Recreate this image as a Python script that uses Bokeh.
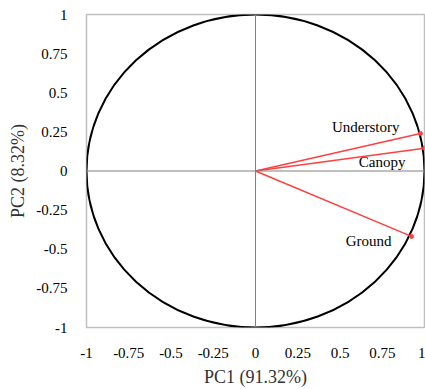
from bokeh.plotting import figure
from bokeh.models import FixedTicker, Span, ColumnDataSource, Range1d
from bokeh.core.properties import value
from bokeh.embed import file_html
from bokeh.resources import INLINE

names = ["Understory", "Canopy", "Ground"]
pc1 = [0.976, 1.0, 0.923]
pc2 = [0.24, 0.146, -0.418]
ticks = [-1, -0.75, -0.5, -0.25, 0, 0.25, 0.5, 0.75, 1]
tick_labels = ["-1", "-0.75", "-0.5", "-0.25", "0", "0.25", "0.5", "0.75", "1"]

FONT = "Liberation Serif"

p = figure(width=425, height=389, output_backend="svg", toolbar_location=None,
           x_range=Range1d(-1, 1), y_range=Range1d(-1, 1),
           min_border_left=86, min_border_right=1, min_border_top=14, min_border_bottom=59)
p.grid.visible = False
p.outline_line_color = "#bfbfbf"
p.outline_line_width = 1.5
p.background_fill_color = "white"
p.border_fill_color = "white"

for ax, lab in ((p.xaxis[0], "PC1 (91.32%)"), (p.yaxis[0], "PC2 (8.32%)")):
    ax.ticker = FixedTicker(ticks=ticks)
    ax.major_label_overrides = {t: l for t, l in zip(ticks, tick_labels)}
    ax.axis_line_color = None
    ax.major_tick_line_color = None
    ax.minor_tick_line_color = None
    ax.major_label_text_font = FONT
    ax.major_label_text_font_size = "15px"
    ax.major_label_text_color = "black"
    ax.axis_label = lab
    ax.axis_label_text_font = FONT
    ax.axis_label_text_font_size = "18px"
    ax.axis_label_text_font_style = "normal"
    ax.axis_label_text_color = "#333333"

p.xaxis[0].major_label_standoff = 14
p.xaxis[0].axis_label_standoff = 6
p.yaxis[0].major_label_standoff = 13
p.yaxis[0].axis_label_standoff = 5

p.add_layout(Span(location=0, dimension="width", line_color="#808080", line_width=1))
p.add_layout(Span(location=0, dimension="height", line_color="#808080", line_width=1))

p.ellipse(x=[0], y=[0], width=[2], height=[2], fill_color=None, line_color="black", line_width=2)

src = ColumnDataSource(dict(x0=[0] * 3, y0=[0] * 3, x=pc1, y=pc2, name=names,
                            xo=[-21, -19, -20], yo=[-6, 14, 5]))
p.segment(x0="x0", y0="y0", x1="x", y1="y", source=src, line_color="#ff4040", line_width=1.5)
p.scatter(x="x", y="y", source=src, size=4, fill_color="#ff4040", line_color="#ff4040")
p.text(x="x", y="y", text="name", source=src, x_offset="xo", y_offset="yo",
       text_align="right", text_baseline="middle", text_font=value(FONT),
       text_font_size="15px", text_color="black")

open("out.html", "w").write(file_html(p, INLINE))
